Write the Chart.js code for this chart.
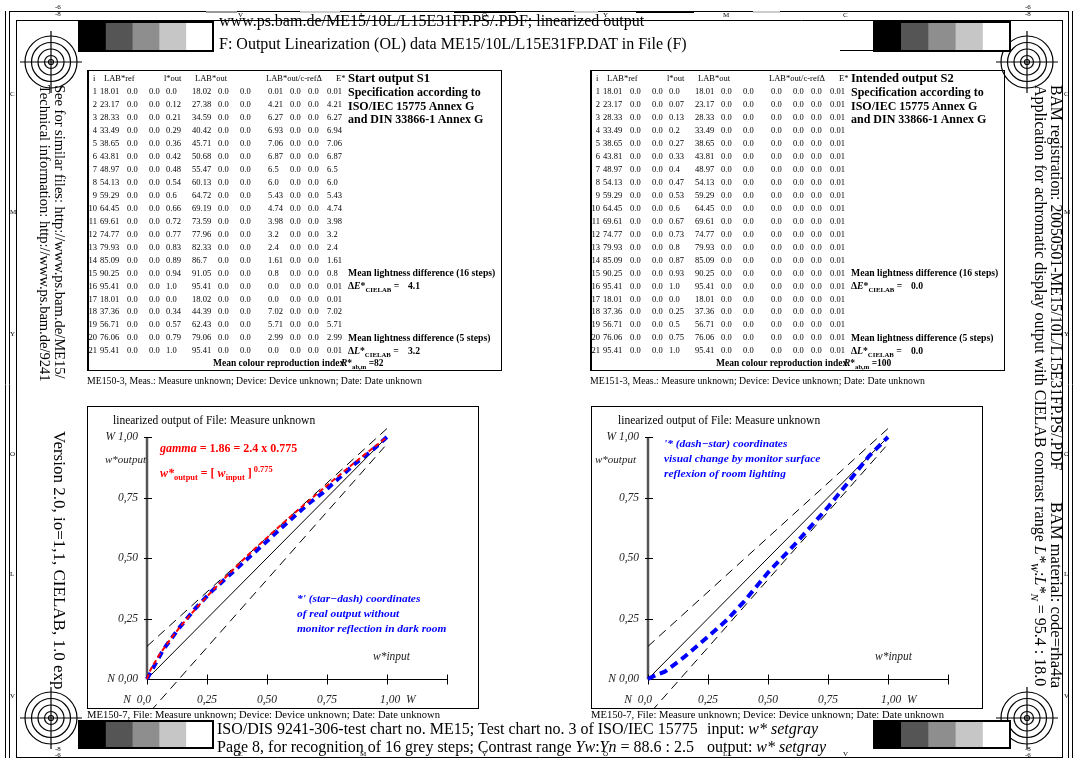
<!DOCTYPE html>
<html>
<head>
<meta charset="utf-8">
<style>
  body { margin: 0; padding: 0; background: #fff; }
  #page { position: relative; width: 1078px; height: 758px; overflow: hidden;
          font-family: "Liberation Serif", "Times New Roman", serif; color: #000; }
  .t { position: absolute; white-space: nowrap; line-height: 1; }
  .box { position: absolute; border: 1px solid #000; box-sizing: border-box; }
  .bld { font-weight: bold; }
  .red { color: #f00; font-weight: bold; font-size: 12px; }
  .blue { color: #00f; font-weight: bold; font-style: italic; font-size: 11.4px; }
  .rot { position: absolute; transform-origin: 0 0; transform: rotate(90deg); white-space: nowrap; }
  .tiny { font-size: 7px; }
  sub, sup { font-size: 70%; line-height: 0; }
  canvas { position: absolute; }
</style>
</head>
<body>
<div id="page">
  <canvas id="deco" width="1078" height="758" style="left:0;top:0"></canvas>

  <!-- header / footer -->
  <div class="t" style="left:219px;top:13px;font-size:16px">www.ps.bam.de/ME15/10L/L15E31FP.PS/.PDF; linearized output</div>
  <div class="t" style="left:219px;top:36px;font-size:16px">F: Output Linearization (OL) data ME15/10L/L15E31FP.DAT in File (F)</div>
  <div class="t" style="left:217px;top:721px;font-size:16px">ISO/DIS 9241-306-test chart no. ME15; Test chart no. 3 of ISO/IEC 15775</div>
  <div class="t" style="left:217px;top:739px;font-size:16px">Page 8, for recognition of 16 grey steps; Contrast range <i>Yw</i>:<i>Yn</i> = 88.6 : 2.5</div>
  <div class="t" style="left:707px;top:721px;font-size:16px">input: <i>w* setgray</i></div>
  <div class="t" style="left:707px;top:739px;font-size:16px">output: <i>w* setgray</i></div>

  <!-- side texts -->
  <div class="rot" style="left:67px;top:85px;font-size:14.5px;line-height:15px">See for similar files: http://www.ps.bam.de/ME15/<br>Technical information: http://www.ps.bam.de/9241</div>
  <div class="rot" style="left:67px;top:431px;font-size:17px;line-height:15px">Version 2.0, io=1,1, CIELAB, 1.0 exp</div>
  <div class="rot" style="left:1064px;top:85px;font-size:15.7px;line-height:16px">BAM registration: 20050501-ME15/10L/L15E31FP.PS/.PDF</div>
  <div class="rot" style="left:1064px;top:502px;font-size:16.5px;line-height:16px">BAM material: code=rha4ta</div>
  <div class="rot" style="left:1048px;top:85px;font-size:16px;line-height:16px">Application for achromatic display output with CIELAB contrast range <i>L*</i><sub><i>W</i></sub>:<i>L*</i><sub><i>N</i></sub> = 95.4 : 18.0</div>

  <!-- table boxes -->
  <div class="box" style="left:87px;top:70px;width:415px;height:301px;border-left-width:2px"></div>
  <div class="box" style="left:590px;top:70px;width:415px;height:301px;border-left-width:2px"></div>
  <div id="tables"></div>
  <div class="t" style="left:87px;top:376px;font-size:9.8px">ME150-3, Meas.: Measure unknown; Device: Device unknown; Date: Date unknown</div>
  <div class="t" style="left:590px;top:376px;font-size:9.8px">ME151-3, Meas.: Measure unknown; Device: Device unknown; Date: Date unknown</div>

  <!-- chart boxes -->
  <div class="box" style="left:87px;top:406px;width:392px;height:303px"></div>
  <div class="box" style="left:591px;top:406px;width:392px;height:303px"></div>
  <canvas id="chartLeft" width="390" height="301" style="left:88px;top:407px"></canvas>
  <canvas id="chartRight" width="390" height="301" style="left:592px;top:407px"></canvas>
  <div class="t" style="left:87px;top:710px;font-size:10.6px">ME150-7, File: Measure unknown; Device: Device unknown; Date: Date unknown</div>
  <div class="t" style="left:591px;top:710px;font-size:10.6px">ME150-7, File: Measure unknown; Device: Device unknown; Date: Date unknown</div>

  <!-- left chart texts -->
  <div class="t" style="left:113px;top:415px;font-size:11.5px">linearized output of File: Measure unknown</div>
  <div class="t" style="left:105px;top:454px;font-size:11px;font-style:italic;color:#222">w*output</div>
  <div class="t" style="left:373px;top:651px;font-size:11.5px;font-style:italic;color:#222">w*input</div>
  <div class="t red" style="left:160px;top:442px"><i>gamma</i> = 1.86 = 2.4 x 0.775</div>
  <div class="t red" style="left:160px;top:467px"><i>w*</i><sub>output</sub> = [ <i>w</i><sub>input</sub> ]<sup>&nbsp;0.775</sup></div>
  <div class="t blue" style="left:297px;top:593px">*' (star−dash) coordinates</div>
  <div class="t blue" style="left:297px;top:608px">of real output without</div>
  <div class="t blue" style="left:297px;top:623px">monitor reflection in dark room</div>

  <!-- right chart texts -->
  <div class="t" style="left:618px;top:415px;font-size:11.5px">linearized output of File: Measure unknown</div>
  <div class="t" style="left:595px;top:454px;font-size:11px;font-style:italic;color:#222">w*output</div>
  <div class="t" style="left:875px;top:651px;font-size:11.5px;font-style:italic;color:#222">w*input</div>
  <div class="t blue" style="left:664px;top:438px">'* (dash−star) coordinates</div>
  <div class="t blue" style="left:664px;top:453px">visual change by monitor surface</div>
  <div class="t blue" style="left:664px;top:468px">reflexion of room lighting</div>

  <div id="marks"></div>
</div>

<script src="https://cdn.jsdelivr.net/npm/chart.js"></script>
<script>
// ---- table data ----
const labRef = ["18.01","23.17","28.33","33.49","38.65","43.81","48.97","54.13","59.29","64.45","69.61","74.77","79.93","85.09","90.25","95.41","18.01","37.36","56.71","76.06","95.41"];
const s1Lout = ["0.0","0.12","0.21","0.29","0.36","0.42","0.48","0.54","0.6","0.66","0.72","0.77","0.83","0.89","0.94","1.0","0.0","0.34","0.57","0.79","1.0"];
const s1LabOut = ["18.02","27.38","34.59","40.42","45.71","50.68","55.47","60.13","64.72","69.19","73.59","77.96","82.33","86.7","91.05","95.41","18.02","44.39","62.43","79.06","95.41"];
const s1Delta = ["0.01","4.21","6.27","6.93","7.06","6.87","6.5","6.0","5.43","4.74","3.98","3.2","2.4","1.61","0.8","0.0","0.0","7.02","5.71","2.99","0.0"];
const s1E = ["0.01","4.21","6.27","6.94","7.06","6.87","6.5","6.0","5.43","4.74","3.98","3.2","2.4","1.61","0.8","0.01","0.01","7.02","5.71","2.99","0.01"];
const s2Lout = ["0.0","0.07","0.13","0.2","0.27","0.33","0.4","0.47","0.53","0.6","0.67","0.73","0.8","0.87","0.93","1.0","0.0","0.25","0.5","0.75","1.0"];
const s2LabOut = ["18.01","23.17","28.33","33.49","38.65","43.81","48.97","54.13","59.29","64.45","69.61","74.77","79.93","85.09","90.25","95.41","18.01","37.36","56.71","76.06","95.41"];
const s2Delta = ["0.0","0.0","0.0","0.0","0.0","0.0","0.0","0.0","0.0","0.0","0.0","0.0","0.0","0.0","0.0","0.0","0.0","0.0","0.0","0.0","0.0"];
const s2E = ["0.01","0.01","0.01","0.01","0.01","0.01","0.01","0.01","0.01","0.01","0.01","0.01","0.01","0.01","0.01","0.01","0.01","0.01","0.01","0.01","0.01"];
const s1Summary = ["4.1", "3.2", "82"];
const s2Summary = ["0.0", "0.0", "100"];

// ---- chart data ----
const wIn16 = [0, 0.067, 0.133, 0.2, 0.267, 0.333, 0.4, 0.467, 0.533, 0.6, 0.667, 0.733, 0.8, 0.867, 0.933, 1.0];
const s1Out16 = [0, 0.12, 0.21, 0.29, 0.36, 0.42, 0.48, 0.54, 0.6, 0.66, 0.72, 0.77, 0.83, 0.89, 0.94, 1.0];
const gammaX = [0, 0.01, 0.02, 0.05, 0.1, 0.15, 0.2, 0.25, 0.3, 0.35, 0.4, 0.45, 0.5, 0.55, 0.6, 0.65, 0.7, 0.75, 0.8, 0.85, 0.9, 0.95, 1.0];
const gammaY = [0, 0.028, 0.048, 0.098, 0.168, 0.23, 0.287, 0.341, 0.393, 0.443, 0.492, 0.539, 0.584, 0.629, 0.673, 0.716, 0.758, 0.8, 0.841, 0.882, 0.922, 0.961, 1.0];
const reflX = [0, 0.03, 0.07, 0.15, 0.25, 0.33, 0.4, 0.5, 0.62, 0.75, 0.84, 0.92, 1.0];
const reflY = [0, 0.015, 0.03, 0.09, 0.175, 0.245, 0.32, 0.44, 0.565, 0.71, 0.82, 0.92, 1.0];
const diagX = [0, 1], diagY = [0, 1];
const upperX = [0, 1], upperY = [0.135, 1.035];
const lowerX = [0.015, 0.99], lowerY = [-0.133, 0.96];
const xTickVals = [0, 0.25, 0.5, 0.75, 1.0, 1.25];
const xTickLabels = ["N  0,0", "0,25", "0,50", "0,75", "1,00  W", ""];
const yTickVals = [0, 0.25, 0.5, 0.75, 1.0];
const yTickLabels = ["N 0,00", "0,25", "0,50", "0,75", "W 1,00"];

// ---- tables ----
const tables = document.getElementById('tables');
function put(parent, x, yc, html, size, extra) {
  const s = document.createElement('div');
  s.className = 't' + (extra ? ' ' + extra : '');
  s.style.left = x + 'px';
  s.style.top = (yc - size * 0.55) + 'px';
  s.style.fontSize = size + 'px';
  s.innerHTML = html;
  parent.appendChild(s);
  return s;
}
function buildTable(dx, title, lout, labOut, delta, e, summary) {
  const hy = 79, fs = 8.5;
  put(tables, dx + 93, hy, 'i', fs);
  put(tables, dx + 104, hy, 'LAB*ref', fs);
  put(tables, dx + 164, hy, 'l*out', fs);
  put(tables, dx + 195, hy, 'LAB*out', fs);
  put(tables, dx + 266, hy, 'LAB*out/c-refΔ', fs);
  put(tables, dx + 336, hy, 'E*', fs);
  const cols = [100, 127, 149, 166, 192, 218, 240, 268, 290, 308, 327];
  for (let i = 0; i < labRef.length; i++) {
    const yc = 92 + i * 12.95;
    const n = put(tables, dx + 97, yc, String(i + 1), fs);
    n.style.transform = 'translateX(-100%)';
    const vals = [labRef[i], '0.0', '0.0', lout[i], labOut[i], '0.0', '0.0', delta[i], '0.0', '0.0', e[i]];
    vals.forEach((v, k) => put(tables, dx + cols[k], yc, v, fs));
  }
  put(tables, dx + 348, 79, title, 12.5, 'bld');
  put(tables, dx + 348, 93, 'Specification according to', 12, 'bld');
  put(tables, dx + 348, 106.5, 'ISO/IEC 15775 Annex G', 12, 'bld');
  put(tables, dx + 348, 120, 'and DIN 33866-1 Annex G', 12, 'bld');
  put(tables, dx + 348, 92 + 14 * 12.95, 'Mean lightness difference (16 steps)', 9.7, 'bld');
  put(tables, dx + 348, 92 + 15 * 12.95, 'Δ<i>E</i>*<sub>CIELAB</sub> =', 9.7, 'bld');
  put(tables, dx + 408, 92 + 15 * 12.95, summary[0], 9.7, 'bld');
  put(tables, dx + 348, 92 + 19 * 12.95, 'Mean lightness difference (5 steps)', 9.7, 'bld');
  put(tables, dx + 348, 92 + 20 * 12.95, 'Δ<i>L</i>*<sub>CIELAB</sub> =', 9.7, 'bld');
  put(tables, dx + 408, 92 + 20 * 12.95, summary[1], 9.7, 'bld');
  put(tables, dx + 213, 364, 'Mean colour reproduction index', 9.5, 'bld');
  put(tables, dx + 341, 364, '<i>R</i>*<sub>ab,m</sub> =', 9.5, 'bld');
  put(tables, dx + 374, 364, summary[2], 9.5, 'bld');
}
buildTable(0, 'Start output S1', s1Lout, s1LabOut, s1Delta, s1E, s1Summary);
buildTable(503, 'Intended output S2', s2Lout, s2LabOut, s2Delta, s2E, s2Summary);

// ---- small strip letters ----
const marks = document.getElementById('marks');
const stripX = [240, 362, 484, 605, 725, 845];
['V', 'L', 'O', 'Y', 'M', 'C'].forEach((c, i) => put(marks, stripX[i] - 2, 16, c, 7, 'tiny'));
['C', 'M', 'Y', 'O', 'L', 'V'].forEach((c, i) => put(marks, stripX[i] - 2, 755, c, 7, 'tiny'));
const sideY = [95, 213, 335, 455, 575, 697];
['C', 'M', 'Y', 'O', 'L', 'V'].forEach((c, i) => { put(marks, 10, sideY[i], c, 7, 'tiny'); put(marks, 1064, sideY[i], c, 7, 'tiny'); });
[[55, 8, '-6'], [55, 15, '-8'], [1025, 8, '-6'], [1025, 15, '-8'], [55, 750, '-8'], [55, 756, '-6'], [1025, 750, '-8'], [1025, 756, '-6']]
  .forEach(m => put(marks, m[0], m[1], m[2], 7, 'tiny'));

// ---- decoration: frames, targets, grey wedges ----
const d = document.getElementById('deco').getContext('2d');
function seg(x1, y1, x2, y2, w, c) {
  d.strokeStyle = c || '#000'; d.lineWidth = w || 1;
  d.beginPath(); d.moveTo(x1, y1); d.lineTo(x2, y2); d.stroke();
}
seg(5.5, 11, 5.5, 758); seg(9.5, 11, 9.5, 758);
seg(1068.5, 11, 1068.5, 758); seg(1072.5, 11, 1072.5, 758);
seg(9, 11.5, 1069, 11.5);
seg(16.5, 20, 16.5, 758); seg(1062.5, 20, 1062.5, 758);
seg(16, 20.5, 1063, 20.5); seg(16, 757.5, 1063, 757.5);
[[206, 237, '#999'], [300, 340, '#ccc'], [454, 516, '#000'], [574, 598, '#ccc'], [636, 694, '#000'], [753, 780, '#ccc']]
  .forEach(s => seg(s[0], 12, s[1], 12, 2, s[2]));

function target(cx, cy) {
  d.lineWidth = 1.2; d.strokeStyle = '#000';
  d.beginPath(); d.moveTo(cx - 31, cy); d.lineTo(cx + 31, cy); d.moveTo(cx, cy - 31); d.lineTo(cx, cy + 31); d.stroke();
  [26, 19.5, 13, 6.5, 2.5].forEach(r => { d.beginPath(); d.arc(cx, cy, r, 0, 2 * Math.PI); d.stroke(); });
}
target(51, 62); target(1027, 62); target(51, 718); target(1027, 718);

function wedge(x, y, w, h) {
  const cols = ['#000', '#555', '#8e8e8e', '#c6c6c6', '#fff'];
  const pw = w / 5;
  cols.forEach((c, i) => { d.fillStyle = c; d.fillRect(x + i * pw, y, pw + 0.5, h); });
  d.lineWidth = 2; d.strokeStyle = '#000'; d.strokeRect(x, y, w, h);
}
wedge(79, 22, 134, 29); wedge(874, 22, 136, 29);
wedge(79, 721, 134, 27); wedge(874, 721, 136, 27);
seg(840, 50.5, 874, 50.5);

// ---- charts ----
const pts = (xs, ys) => xs.map((v, i) => ({ x: v, y: ys[i] }));

const axesPlugin = {
  id: 'wAxes',
  beforeDatasetsDraw(chart) {
    const { ctx, scales: { x, y } } = chart;
    const x0 = Math.round(x.getPixelForValue(0)), y0 = Math.round(y.getPixelForValue(0)) + 0.5;
    ctx.save();
    ctx.strokeStyle = '#555'; ctx.lineWidth = 2.5;
    ctx.beginPath(); ctx.moveTo(x0, y0); ctx.lineTo(x0, y.getPixelForValue(1)); ctx.stroke();
    ctx.strokeStyle = '#000'; ctx.lineWidth = 1;
    ctx.beginPath(); ctx.moveTo(x0, y0); ctx.lineTo(x.getPixelForValue(1.25), y0);
    xTickVals.forEach(v => {
      const px = Math.round(x.getPixelForValue(v)) + 0.5;
      ctx.moveTo(px, y0 - 5); ctx.lineTo(px, y0 + 5);
    });
    yTickVals.forEach(v => {
      if (v === 0) return;
      const py = Math.round(y.getPixelForValue(v)) + 0.5;
      ctx.moveTo(x0 - 3, py); ctx.lineTo(x0 + 5, py);
    });
    ctx.stroke();
    ctx.fillStyle = '#222';
    ctx.font = 'italic 11.5px "Liberation Serif", serif';
    ctx.textBaseline = 'middle';
    ctx.textAlign = 'right';
    yTickVals.forEach((v, i) => ctx.fillText(yTickLabels[i], x0 - 9, y.getPixelForValue(v)));
    xTickVals.forEach((v, i) => {
      const px = x.getPixelForValue(v);
      if (i === 0) { ctx.textAlign = 'right'; ctx.fillText(xTickLabels[i], px + 4, y0 + 20); }
      else if (v === 1) { ctx.textAlign = 'left'; ctx.fillText(xTickLabels[i], px - 7, y0 + 20); }
      else { ctx.textAlign = 'center'; ctx.fillText(xTickLabels[i], px, y0 + 20); }
    });
    ctx.restore();
  }
};

function refLines() {
  return [
    { data: pts(diagX, diagY), borderColor: '#000', borderWidth: 1, order: 3 },
    { data: pts(upperX, upperY), borderColor: '#000', borderWidth: 1, borderDash: [9, 6], order: 3 },
    { data: pts(lowerX, lowerY), borderColor: '#000', borderWidth: 1, borderDash: [9, 6], order: 3 }
  ];
}

function makeChart(id, padLeft, padRight, datasets) {
  new Chart(document.getElementById(id), {
    type: 'scatter',
    data: { datasets: datasets.map(ds => Object.assign({ showLine: true, pointRadius: 0, clip: false, fill: false, tension: 0 }, ds)) },
    options: {
      responsive: false,
      animation: false,
      events: [],
      layout: { padding: { left: padLeft, right: padRight, top: 30, bottom: 29 } },
      plugins: { legend: { display: false }, tooltip: { enabled: false } },
      scales: {
        x: { type: 'linear', min: 0, max: 1.25, display: false },
        y: { type: 'linear', min: 0, max: 1, display: false }
      }
    },
    plugins: [axesPlugin]
  });
}

makeChart('chartLeft', 59, 31, refLines().concat([
  { data: pts(wIn16, s1Out16), borderColor: '#0000ff', borderWidth: 4, borderDash: [7, 5], order: 1 },
  { data: pts(gammaX, gammaY), borderColor: '#ff0000', borderWidth: 2, borderDash: [5, 3], order: 0 }
]));
makeChart('chartRight', 56, 34, refLines().concat([
  { data: pts(reflX, reflY), borderColor: '#0000ff', borderWidth: 4, borderDash: [8, 5], order: 1 }
]));
</script>
</body>
</html>
